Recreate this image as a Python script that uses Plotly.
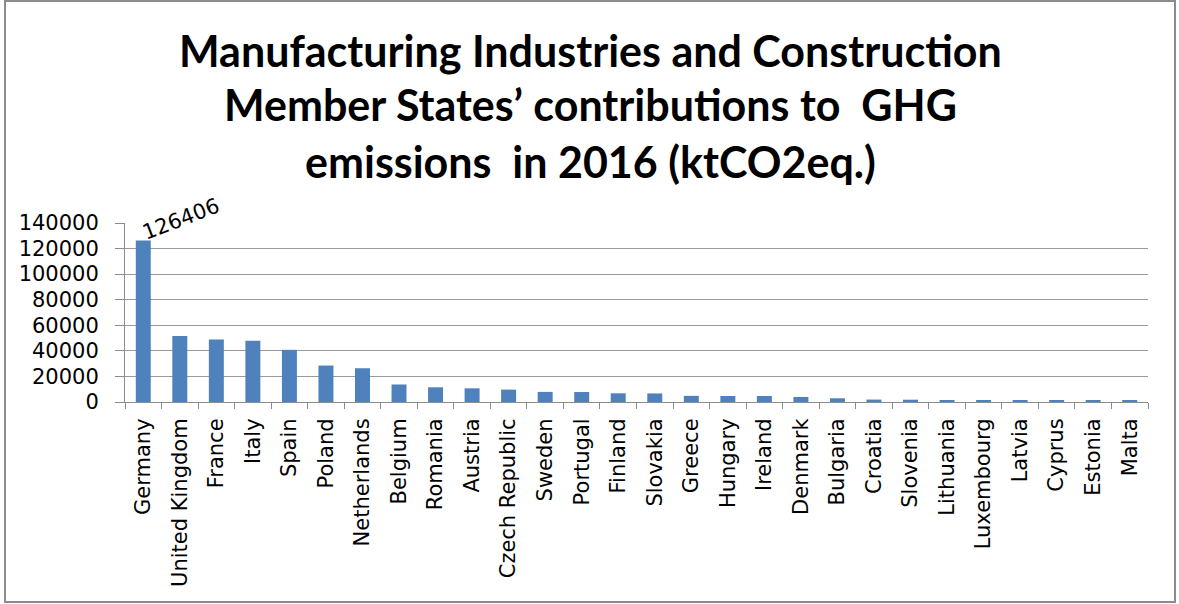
import plotly.graph_objects as go

countries = ["Germany", "United Kingdom", "France", "Italy", "Spain", "Poland",
             "Netherlands", "Belgium", "Romania", "Austria", "Czech Republic",
             "Sweden", "Portugal", "Finland", "Slovakia", "Greece", "Hungary",
             "Ireland", "Denmark", "Bulgaria", "Croatia", "Slovenia", "Lithuania",
             "Luxembourg", "Latvia", "Cyprus", "Estonia", "Malta"]
emissions = [126406, 51700, 48900, 47900, 40800, 28500, 26400, 13700, 11500,
             10700, 9700, 7900, 7800, 6800, 6700, 4800, 4700, 4700, 3900, 2900,
             1900, 1800, 1000, 1000, 950, 900, 900, 800]
yticks = [0, 20000, 40000, 60000, 80000, 100000, 120000, 140000]
title_lines = ["Manufacturing Industries and Construction",
               "Member States’ contributions to  GHG",
               "emissions  in 2016 (ktCO2eq.)"]

W, H = 1179, 604
L, R, T, B = 125, 31, 223, 202
pw, ph = W - L - R, H - T - B

def px_x(x):
    return (x - L) / pw

def px_y(y):
    return (H - B - y) / ph

tick_font = "DejaVu Sans, sans-serif"
title_font = "Lato, Open Sans, sans-serif"

fig = go.Figure(go.Bar(
    x=countries, y=emissions,
    marker=dict(color="#4F81BD", line=dict(width=0)),
))

fig.add_annotation(
    x=countries[0], y=emissions[0], text=str(emissions[0]),
    showarrow=False, textangle=-21, xanchor="center", yanchor="middle",
    xshift=38, yshift=21, font=dict(family=tick_font, size=21, color="#000000"),
)

title_centers = [50, 105, 161]
for line, yc in zip(title_lines, title_centers):
    fig.add_annotation(
        xref="paper", yref="paper", x=px_x(590), y=px_y(yc),
        text=line.replace("  ", "&nbsp; "), showarrow=False,
        xanchor="center", yanchor="middle",
        font=dict(family=title_font, size=43, color="#000000", weight="bold"),
    )

fig.update_layout(
    width=W, height=H,
    margin=dict(l=L, r=R, t=T, b=B, autoexpand=False),
    paper_bgcolor="white", plot_bgcolor="white",
    bargap=0.59,
    showlegend=False,
    font=dict(family=tick_font, size=21, color="#000000"),
    xaxis=dict(
        type="category", tickangle=-90, tickson="boundaries",
        ticks="outside", ticklen=6, tickcolor="#8c8c8c",
        showline=True, linecolor="#8c8c8c", linewidth=1,
        showgrid=False, ticklabelstandoff=7, automargin=False,
        tickfont=dict(family=tick_font, size=21, color="#000000"),
    ),
    yaxis=dict(
        range=[0, 140000], tickvals=yticks,
        ticktext=[str(v) for v in yticks],
        showgrid=True, gridcolor="#9a9a9a", gridwidth=1,
        showline=True, linecolor="#8c8c8c", linewidth=1,
        ticks="outside", ticklen=9, tickcolor="#8c8c8c",
        zeroline=False, ticklabelstandoff=12, automargin=False,
        tickfont=dict(family=tick_font, size=21, color="#000000"),
    ),
    shapes=[dict(
        type="rect", xref="paper", yref="paper",
        x0=px_x(5), x1=px_x(1175), y0=px_y(602), y1=px_y(1),
        line=dict(color="#8c8c8c", width=2), fillcolor="rgba(0,0,0,0)",
        layer="below",
    )],
)

fig.write_html(
    "out.html",
    config={"displayModeBar": False},
    post_script="document.body.style.margin='0';document.body.style.overflow='hidden';",
)
